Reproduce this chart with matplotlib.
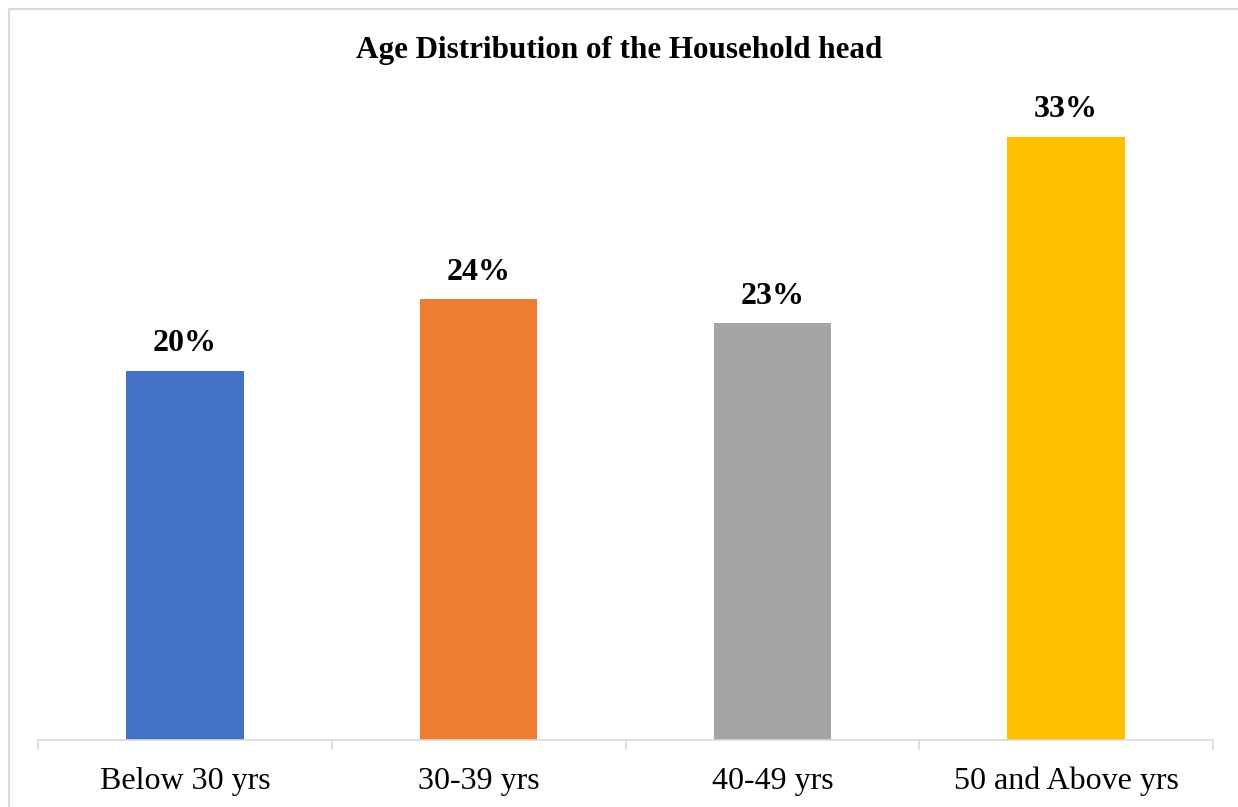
import matplotlib
matplotlib.use("Agg")
from matplotlib import pyplot as plt
from matplotlib.lines import Line2D
import numpy as np

plt.rcParams['font.family'] = ['Liberation Serif', 'DejaVu Serif']

# data
categories = ['Below 30 yrs', '30-39 yrs', '40-49 yrs', '50 and Above yrs']
shares = [20.2, 24.1, 22.8, 33.0]
bar_colors = ['#4472C4', '#ED7D31', '#A5A5A5', '#FFC000']
title = 'Age Distribution of the Household head'

fig = plt.figure(figsize=(12.38, 8.07), dpi=100)
ax = fig.add_axes([38/1238, 67/807, 1175/1238, 640/807])

x = np.arange(len(categories))
bars = ax.bar(x, shares, width=0.4, color=bar_colors)

for b, v in zip(bars, shares):
    ax.annotate(f'{v:.0f}%', (b.get_x() + b.get_width()/2, b.get_height()),
                xytext=(0, 14), textcoords='offset points',
                ha='center', va='baseline', fontsize=23, fontweight='bold')

ax.set_xlim(-0.5, len(categories) - 0.5)
ax.set_ylim(0, 35)

# category labels at centres, tick marks between categories
ax.set_xticks(x)
ax.set_xticklabels(categories, fontsize=23)
ax.set_xticks(np.arange(len(categories) + 1) - 0.5, minor=True)
ax.tick_params(axis='x', which='major', length=0, pad=35)
ax.tick_params(axis='x', which='minor', length=7.5, width=1.2, color='#D9D9D9')
for lab in ax.get_xticklabels():
    lab.set_va('baseline')
ax.set_yticks([])

for s in ['top', 'right', 'left']:
    ax.spines[s].set_visible(False)
ax.spines['bottom'].set_color('#D9D9D9')
ax.spines['bottom'].set_linewidth(1.2)

fig.text(0.5, 1 - 58/807, title, ha='center', va='baseline',
         fontsize=22.4, fontweight='bold')

# chart frame: only the left and top edges are inside the picture
fx, fy = 9/1238, 1 - 9/807
fig.add_artist(Line2D([fx, fx, 1], [0, fy, fy], transform=fig.transFigure,
                      color='#D9D9D9', linewidth=1.5))

fig.savefig('out.png', dpi=100)
